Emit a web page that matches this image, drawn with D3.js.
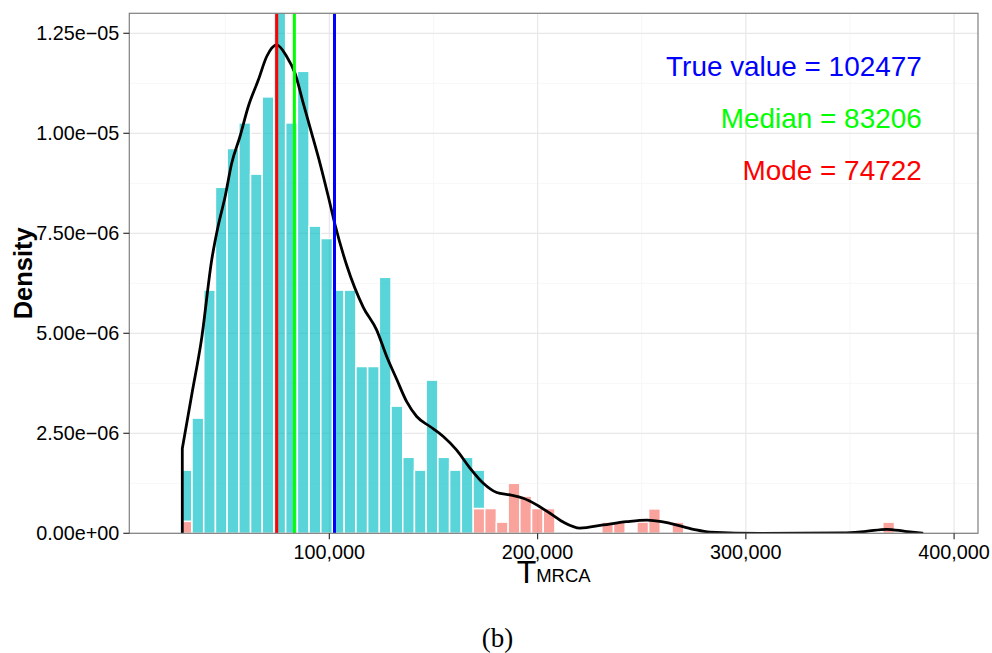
<!DOCTYPE html>
<html>
<head>
<meta charset="utf-8">
<script src="https://d3js.org/d3.v7.min.js"></script>
<style>
body { margin: 0; background: #fff; }
text { font-family: "Liberation Sans", Arial, Helvetica, sans-serif; }
</style>
</head>
<body>
<div id="chart"></div>
<script>
// histogram bins (left edge, T_MRCA), densities in units of 1e-6
var binStart = [28430, 34052, 39674, 45296, 50918, 56540, 62162, 67784, 73406, 79028,
    84650, 90272, 95894, 101516, 107138, 112760, 118382, 124004, 129626, 135248,
    140870, 146492, 152114, 157736, 163358, 168980, 174602, 180224, 185846, 191468,
    197090, 202712, 230822, 236444, 247688, 253310, 264554, 365750];
var binWidth = 5622;
// outside interval (pink, bottom of stack)
var outsideDensity = [0.30, 0, 0, 0, 0, 0, 0, 0, 0, 0,
    0, 0, 0, 0, 0, 0, 0, 0, 0, 0,
    0, 0, 0, 0, 0, 0.62, 0.62, 0.28, 1.25, 0.93,
    0.62, 0.62, 0.28, 0.28, 0.28, 0.61, 0.28, 0.28];
// inside interval (cyan, top of stack)
var insideDensity = [1.28, 2.88, 6.08, 8.65, 9.62, 10.26, 8.98, 10.91, 13.4, 10.26,
    11.55, 7.68, 7.37, 6.08, 6.08, 4.17, 4.17, 6.40, 3.18, 1.90,
    1.58, 3.83, 1.90, 1.58, 1.90, 0.96, 0, 0, 0, 0,
    0, 0, 0, 0, 0, 0, 0, 0];

// kernel density curve
var curveT = [29390, 34050, 38700, 43500, 46680, 49890, 53110, 57090, 61080, 65880,
    69920, 74720, 79520, 83510, 87490, 91520, 95510, 99500, 102710, 108330,
    116300, 122740, 127540, 132340, 137140, 141940, 148330, 154720, 161150, 167540,
    173930, 180360, 186750, 193130, 199570, 205950, 212340, 220360, 231550, 242780,
    252390, 263580, 274770, 282790, 306800, 346800, 357700, 367650, 376430, 385200];
var curveDensity = [2.12, 3.50, 4.88, 6.83, 7.70, 8.40, 9.25, 9.92, 10.67, 11.33,
    11.92, 12.21, 11.92, 11.50, 10.75, 10.00, 9.25, 8.42, 7.72, 6.70,
    5.65, 5.08, 4.42, 3.85, 3.29, 2.92, 2.67, 2.42, 2.08, 1.63,
    1.25, 1.02, 0.96, 0.875, 0.71, 0.50, 0.28, 0.13, 0.21, 0.29,
    0.33, 0.25, 0.10, 0.03, 0.0, 0.01, 0.05, 0.10, 0.05, 0.0];

var markerNames = ["True value", "Median", "Mode"];
var markerValues = [102477, 83206, 74722];
var markerColors = ["#0000FF", "#00FF00", "#FF0000"];

var xTicks = [100000, 200000, 300000, 400000];
var xTickLabels = ["100,000", "200,000", "300,000", "400,000"];
var xMinor = [50000, 150000, 250000, 350000];
var yTicks = [0, 2.5, 5, 7.5, 10, 12.5];
var yTickLabels = ["0.00e+00", "2.50e\u221206", "5.00e\u221206", "7.50e\u221206", "1.00e\u221205", "1.25e\u221205"];
var yMinor = [1.25, 3.75, 6.25, 8.75, 11.25];

var W = 992, H = 653;
var pLeft = 129.3, pRight = 978, pTop = 13.3, pBottom = 533.3;

var x = d3.scaleLinear().domain([3940, 411480]).range([pLeft, pRight]);
var y = d3.scaleLinear().domain([0, 13]).range([pBottom, pTop]);

var svg = d3.select("#chart").append("svg")
    .attr("width", W)
    .attr("height", H);

svg.append("rect").attr("width", W).attr("height", H).attr("fill", "#fff");

svg.append("clipPath").attr("id", "panel")
    .append("rect")
    .attr("x", pLeft).attr("y", pTop)
    .attr("width", pRight - pLeft).attr("height", pBottom - pTop);

var grid = svg.append("g");

// minor grid
grid.selectAll("line.ymin").data(yMinor).enter().append("line")
    .attr("x1", pLeft).attr("x2", pRight)
    .attr("y1", function(d) { return y(d); })
    .attr("y2", function(d) { return y(d); })
    .attr("stroke", "#F7F7F7").attr("stroke-width", 1);
grid.selectAll("line.xmin").data(xMinor).enter().append("line")
    .attr("y1", pTop).attr("y2", pBottom)
    .attr("x1", function(d) { return x(d); })
    .attr("x2", function(d) { return x(d); })
    .attr("stroke", "#F7F7F7").attr("stroke-width", 1);

// major grid
grid.selectAll("line.ymaj").data(yTicks).enter().append("line")
    .attr("x1", pLeft).attr("x2", pRight)
    .attr("y1", function(d) { return y(d); })
    .attr("y2", function(d) { return y(d); })
    .attr("stroke", "#E8E8E8").attr("stroke-width", 1.2);
grid.selectAll("line.xmaj").data(xTicks).enter().append("line")
    .attr("y1", pTop).attr("y2", pBottom)
    .attr("x1", function(d) { return x(d); })
    .attr("x2", function(d) { return x(d); })
    .attr("stroke", "#E8E8E8").attr("stroke-width", 1.2);

var plot = svg.append("g").attr("clip-path", "url(#panel)");

var bins = binStart.map(function(d, i) {
    return { x0: d, x1: d + binWidth, lo: outsideDensity[i], hi: insideDensity[i] };
});

// pink part (bottom of stack)
plot.selectAll("rect.out").data(bins.filter(function(d) { return d.lo > 0; }))
    .enter().append("rect")
    .attr("x", function(d) { return x(d.x0); })
    .attr("width", function(d) { return x(d.x1) - x(d.x0); })
    .attr("y", function(d) { return y(d.lo); })
    .attr("height", function(d) { return y(0) - y(d.lo); })
    .attr("fill", "#F8766D").attr("fill-opacity", 0.67)
    .attr("stroke", "#fff").attr("stroke-width", 1.5);

// cyan part (stacked on top)
plot.selectAll("rect.in").data(bins.filter(function(d) { return d.hi > 0; }))
    .enter().append("rect")
    .attr("x", function(d) { return x(d.x0); })
    .attr("width", function(d) { return x(d.x1) - x(d.x0); })
    .attr("y", function(d) { return y(d.lo + d.hi); })
    .attr("height", function(d) { return y(d.lo) - y(d.lo + d.hi); })
    .attr("fill", "#00BFC4").attr("fill-opacity", 0.65)
    .attr("stroke", "#fff").attr("stroke-width", 1.5);

// density outline
var line = d3.line()
    .x(function(d, i) { return x(curveT[i]); })
    .y(function(d) { return y(d); })
    .curve(d3.curveMonotoneX);

var path = "M" + x(curveT[0]) + "," + y(0) + "L" + line(curveDensity).slice(1);
plot.append("path")
    .attr("d", path)
    .attr("fill", "none")
    .attr("stroke", "#000")
    .attr("stroke-width", 2.8)
    .attr("stroke-linejoin", "round");

// true value / median / mode lines
plot.selectAll("line.mark").data(markerValues).enter().append("line")
    .attr("x1", function(d) { return x(d); })
    .attr("x2", function(d) { return x(d); })
    .attr("y1", pTop).attr("y2", pBottom)
    .attr("stroke", function(d, i) { return markerColors[i]; })
    .attr("stroke-width", 3);

// panel border
svg.append("rect")
    .attr("x", pLeft).attr("y", pTop)
    .attr("width", pRight - pLeft).attr("height", pBottom - pTop)
    .attr("fill", "none").attr("stroke", "#7F7F7F").attr("stroke-width", 1.2);

// y axis ticks + labels
svg.selectAll("line.ytick").data(yTicks).enter().append("line")
    .attr("x1", pLeft - 6).attr("x2", pLeft)
    .attr("y1", function(d) { return y(d); })
    .attr("y2", function(d) { return y(d); })
    .attr("stroke", "#333").attr("stroke-width", 1.2);
svg.selectAll("text.ytick").data(yTicks).enter().append("text")
    .attr("x", pLeft - 10)
    .attr("y", function(d) { return y(d) + 6.9; })
    .attr("text-anchor", "end")
    .attr("font-size", "19.8px")
    .attr("fill", "#000")
    .text(function(d, i) { return yTickLabels[i]; });

// x axis ticks + labels
svg.selectAll("line.xtick").data(xTicks).enter().append("line")
    .attr("y1", pBottom).attr("y2", pBottom + 6)
    .attr("x1", function(d) { return x(d); })
    .attr("x2", function(d) { return x(d); })
    .attr("stroke", "#333").attr("stroke-width", 1.2);
svg.selectAll("text.xtick").data(xTicks).enter().append("text")
    .attr("x", function(d) { return x(d); })
    .attr("y", pBottom + 25.2)
    .attr("text-anchor", "middle")
    .attr("font-size", "19.8px")
    .attr("fill", "#000")
    .text(function(d, i) { return xTickLabels[i]; });

// axis titles
svg.append("text")
    .attr("transform", "translate(31.5," + (pTop + pBottom) / 2 + ") rotate(-90)")
    .attr("text-anchor", "middle")
    .attr("font-size", "25.5px")
    .attr("font-weight", "bold")
    .text("Density");

var xt = svg.append("text")
    .attr("x", (pLeft + pRight) / 2)
    .attr("y", 583)
    .attr("text-anchor", "middle");
xt.append("tspan").attr("font-size", "32px").text("T");
xt.append("tspan").attr("font-size", "18.5px").attr("dy", -1).text("MRCA");

// annotations
svg.selectAll("text.note").data(markerNames).enter().append("text")
    .attr("x", 921.7)
    .attr("y", function(d, i) { return 75.5 + 52 * i; })
    .attr("text-anchor", "end")
    .attr("font-size", "27.9px")
    .attr("fill", function(d, i) { return markerColors[i]; })
    .text(function(d, i) { return d + " = " + markerValues[i]; });

// caption
svg.append("text")
    .attr("x", 497.5)
    .attr("y", 647)
    .attr("text-anchor", "middle")
    .style("font-family", "'Liberation Serif', 'DejaVu Serif', serif")
    .attr("font-size", "27px")
    .text("(b)");
</script>
</body>
</html>
